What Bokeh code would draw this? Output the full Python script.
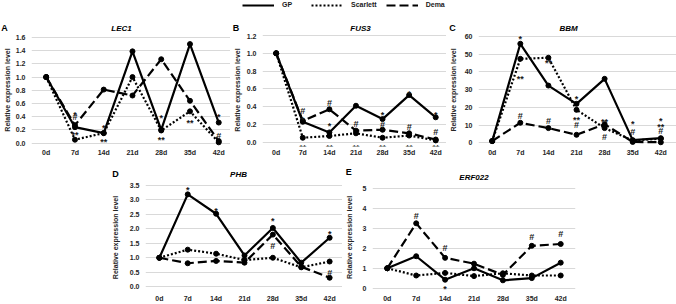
from bokeh.plotting import figure
from bokeh.models import (Range1d, FixedTicker, NumeralTickFormatter, ColumnDataSource,
                          LabelSet, Label, Legend, LegendItem, Spacer)
from bokeh.layouts import column, row
from bokeh.core.properties import value
from bokeh.embed import file_html
from bokeh.resources import INLINE

days = ["0d", "7d", "14d", "21d", "28d", "35d", "42d"]
series_names = ["GP", "Scarlett", "Dema"]
y_title = "Relative expression level"
panel_letters = ["A", "B", "C", "D", "E"]
gene_names = ["LEC1", "FUS3", "BBM", "PHB", "ERF022"]

# A  LEC1
lec1_gp = [1.00, 0.24, 0.15, 1.39, 0.20, 1.50, 0.31]
lec1_scarlett = [1.00, 0.05, 0.15, 1.00, 0.19, 0.48, 0.01]
lec1_dema = [1.00, 0.27, 0.81, 0.72, 1.27, 0.64, 0.03]
lec1_ticks = [0.0, 0.2, 0.4, 0.6, 0.8, 1.0, 1.2, 1.4, 1.6]
lec1_sig_day = [1, 1, 1, 2, 2, 4, 4, 5, 6, 6, 6]
lec1_sig_y = [0.46, 0.39, 0.15, 0.26, 0.045, 0.41, 0.075, 0.33, 0.42, 0.10, -0.08]
lec1_sig = ["*", "#", "**", "*", "**", "*", "**", "**", "*", "#", "**"]

# B  FUS3
fus3_gp = [1.00, 0.23, 0.11, 0.41, 0.26, 0.53, 0.28]
fus3_scarlett = [1.00, 0.05, 0.07, 0.10, 0.05, 0.075, 0.02]
fus3_dema = [1.00, 0.24, 0.37, 0.13, 0.14, 0.10, 0.03]
fus3_ticks = [0.0, 0.2, 0.4, 0.6, 0.8, 1.0, 1.2]
fus3_sig_day = [1, 1, 1, 2, 2, 2, 3, 3, 4, 4, 4, 5, 5, 5, 6, 6, 6]
fus3_sig_y = [0.35, 0.27, -0.04, 0.44, 0.20, -0.04, 0.20, -0.04, 0.33, 0.19, -0.04,
              0.57, 0.17, -0.04, 0.33, 0.12, -0.04]
fus3_sig = ["#", "*", "**", "#", "*", "**", "#", "**", "*", "#", "**",
            "*", "#", "**", "*", "#", "**"]

# C  BBM
bbm_gp = [1.0, 55.9, 32.3, 22.0, 36.1, 1.5, 2.6]
bbm_scarlett = [1.0, 47.4, 48.0, 18.6, 8.3, 1.3, 2.3]
bbm_dema = [1.0, 11.3, 8.3, 4.5, 10.5, 0.5, 0.3]
bbm_ticks = [0, 10, 20, 30, 40, 50, 60]
bbm_sig_day = [1, 1, 1, 2, 2, 3, 3, 3, 4, 4, 5, 5, 6, 6, 6]
bbm_sig_y = [60.0, 37.0, 15.4, 46.4, 12.2, 25.7, 14.1, 9.8, 13.0, 3.2, 11.6, 6.0, 13.5, 9.8, 6.5]
bbm_sig = ["*", "**", "#", "**", "#", "*", "**", "#", "**", "#", "*", "#", "*", "**", "#"]

# D  PHB
phb_gp = [1.00, 3.19, 2.52, 1.08, 2.03, 0.83, 1.69]
phb_scarlett = [1.00, 1.28, 1.14, 0.92, 1.00, 0.67, 0.87]
phb_dema = [1.00, 0.81, 0.89, 0.83, 1.80, 0.69, 0.31]
phb_ticks = [0.0, 0.5, 1.0, 1.5, 2.0, 2.5, 3.0, 3.5]
phb_sig_day = [1, 2, 4, 4, 6, 6]
phb_sig_y = [3.42, 2.69, 2.33, 1.39, 1.89, 0.49]
phb_sig = ["*", "*", "*", "#", "*", "#"]

# E  ERF022
erf_gp = [1.00, 1.60, 0.43, 1.00, 0.40, 0.51, 1.28]
erf_scarlett = [1.00, 0.64, 0.77, 0.61, 0.75, 0.64, 0.64]
erf_dema = [1.00, 3.24, 1.52, 1.23, 0.67, 2.12, 2.21]
erf_ticks = [0, 1, 2, 3, 4, 5]
erf_sig_day = [1, 2, 2, 5, 6]
erf_sig_y = [3.6, 2.0, 0.08, 2.56, 2.69]
erf_sig = ["#", "#", "*", "#", "#"]

FONT = "Liberation Sans"
TICK_COLOR = "#262626"

GP_STYLE = dict(line_color="black", line_width=2.2)
SC_STYLE = dict(line_color="black", line_width=2.2, line_dash="2 2")
DE_STYLE = dict(line_color="black", line_width=2.2, line_dash="9 4")


def panel(fig_left, width, frame_left, frame_right, row_top, height, frame_bottom,
          zero_y, max_y, x0_px, x6_px, label_standoff,
          ymax, ticks, fmt, gp, sc, de, sig_day, sig_y, sig):
    # all pixel arguments are page coordinates
    left = frame_left - fig_left
    right = fig_left + width - frame_right
    bottom = row_top + height - frame_bottom
    ppu = (zero_y - max_y) / ymax
    y1 = ymax + (max_y - row_top) / ppu
    y0 = -(frame_bottom - zero_y) / ppu
    bw = (x6_px - x0_px) / 6.0
    xs0 = -(x0_px - frame_left) / bw
    xs1 = 6 + (frame_right - x6_px) / bw
    p = figure(width=width, height=height,
               x_range=Range1d(xs0, xs1), y_range=Range1d(y0, y1),
               min_border_left=left, min_border_right=right,
               min_border_top=0, min_border_bottom=bottom,
               toolbar_location=None, output_backend="svg")
    p.outline_line_color = None
    p.xgrid.visible = False
    p.ygrid.grid_line_color = "#d9d9d9"
    p.ygrid.grid_line_width = 1

    p.xaxis.ticker = FixedTicker(ticks=list(range(len(days))))
    p.xaxis.major_label_overrides = {i: d for i, d in enumerate(days)}
    p.yaxis.ticker = FixedTicker(ticks=ticks)
    p.yaxis.formatter = NumeralTickFormatter(format=fmt)
    for ax in (p.xaxis[0], p.yaxis[0]):
        ax.axis_line_color = None
        ax.major_tick_line_color = None
        ax.minor_tick_line_color = None
        ax.major_tick_out = 0
        ax.major_tick_in = 0
        ax.major_label_text_font = FONT
        ax.major_label_text_font_style = "bold"
        ax.major_label_text_font_size = "7px"
        ax.major_label_text_color = TICK_COLOR
    p.xaxis.major_label_standoff = 2
    p.yaxis.major_label_standoff = 6
    p.yaxis.axis_label = y_title
    p.yaxis.axis_label_text_font = FONT
    p.yaxis.axis_label_text_font_style = "bold"
    p.yaxis.axis_label_text_font_size = "7px"
    p.yaxis.axis_label_text_color = TICK_COLOR
    p.yaxis.axis_label_standoff = label_standoff

    xs = list(range(len(days)))
    p.line(xs, sc, **SC_STYLE)
    p.line(xs, de, **DE_STYLE)
    p.line(xs, gp, **GP_STYLE)
    for ys in (sc, de, gp):
        p.scatter(xs, ys, size=5, color="black", marker="circle")

    star = [i for i, t in enumerate(sig) if "*" in t]
    hashm = [i for i, t in enumerate(sig) if "*" not in t]
    for idx, off in ((star, -2), (hashm, 0)):
        src = ColumnDataSource(dict(x=[sig_day[i] for i in idx],
                                    y=[sig_y[i] for i in idx],
                                    t=[sig[i] for i in idx]))
        p.add_layout(LabelSet(x="x", y="y", text="t", source=src, y_offset=off,
                              text_align="center", text_baseline="middle",
                              text_font=value(FONT), text_font_style="bold",
                              text_font_size="9px", text_color="#1a1a1a"))
    return p


def header(height, top, letters, titles, with_legend=False):
    h = figure(width=676, height=height, x_range=Range1d(0, 676),
               y_range=Range1d(top + height, top), x_axis_type=None, y_axis_type=None,
               min_border=0, min_border_left=0, min_border_right=0,
               min_border_top=0, min_border_bottom=0,
               toolbar_location=None, output_backend="svg")
    h.grid.visible = False
    h.outline_line_color = None
    for (txt, x, y) in letters:
        h.add_layout(Label(x=x, y=y, text=txt, text_align="center",
                           text_baseline="middle", text_font=FONT,
                           text_font_style="bold", text_font_size="9px",
                           text_color="black"))
    for (txt, x, y) in titles:
        h.add_layout(Label(x=x, y=y, text=txt, text_align="center",
                           text_baseline="middle", text_font=FONT,
                           text_font_style="bold italic", text_font_size="8px",
                           text_color="black"))
    if with_legend:
        far = [-50, -40]
        r_gp = h.line(x=far, y=far, **GP_STYLE)
        r_sc = h.line(x=far, y=far, **SC_STYLE)
        r_de = h.line(x=far, y=far, **DE_STYLE)
        legend = Legend(items=[LegendItem(label=series_names[0], renderers=[r_gp]),
                               LegendItem(label=series_names[1], renderers=[r_sc]),
                               LegendItem(label=series_names[2], renderers=[r_de])],
                        orientation="horizontal", location=(242, height - 8.5),
                        glyph_width=32, glyph_height=8, label_standoff=8, spacing=9,
                        padding=0, margin=0, border_line_color=None,
                        background_fill_alpha=0, label_height=8,
                        label_text_font=FONT, label_text_font_style="bold",
                        label_text_font_size="7px", label_text_color="#1a1a1a")
        h.add_layout(legend, "center")
    return h


hdr_top = header(33, 0,
                 [(panel_letters[0], 4, 27.8), (panel_letters[1], 235.5, 27.5), (panel_letters[2], 452, 27.5)],
                 [(gene_names[0], 121, 27.8), (gene_names[1], 360, 27.8), (gene_names[2], 568, 27.8)],
                 with_legend=True)

pA = panel(0, 230, 27, 230, 33, 127, 146, 142.5, 37, 42, 218, 2,
           1.6, lec1_ticks, "0.0", lec1_gp, lec1_scarlett, lec1_dema,
           lec1_sig_day, lec1_sig_y, lec1_sig)
pB = panel(230, 216, 258, 446, 33, 127, 146, 141.7, 35, 272, 435, 3,
           1.2, fus3_ticks, "0.0", fus3_gp, fus3_scarlett, fus3_dema,
           fus3_sig_day, fus3_sig_y, fus3_sig)
pC = panel(446, 230, 474, 676, 33, 127, 146, 142.3, 36, 488, 660, 5,
           60, bbm_ticks, "0", bbm_gp, bbm_scarlett, bbm_dema,
           bbm_sig_day, bbm_sig_y, bbm_sig)

hdr_bot = header(22, 160,
                 [(panel_letters[3], 115, 173.3), (panel_letters[4], 348.3, 171.2)],
                 [(gene_names[3], 238, 174), (gene_names[4], 473.5, 176.8)])

pD = panel(108, 234, 143, 342, 182, 122, 296, 290, 185, 157, 329, 8,
           3.5, phb_ticks, "0.0", phb_gp, phb_scarlett, phb_dema,
           phb_sig_day, phb_sig_y, phb_sig)
pE = panel(342, 334, 369, 575, 182, 122, 296, 291.7, 187.7, 384, 560, 7,
           5, erf_ticks, "0", erf_gp, erf_scarlett, erf_dema,
           erf_sig_day, erf_sig_y, erf_sig)

layout = column(hdr_top,
                row(pA, pB, pC),
                hdr_bot,
                row(Spacer(width=108, height=122), pD, pE))

open("out.html", "w").write(file_html(layout, INLINE))
